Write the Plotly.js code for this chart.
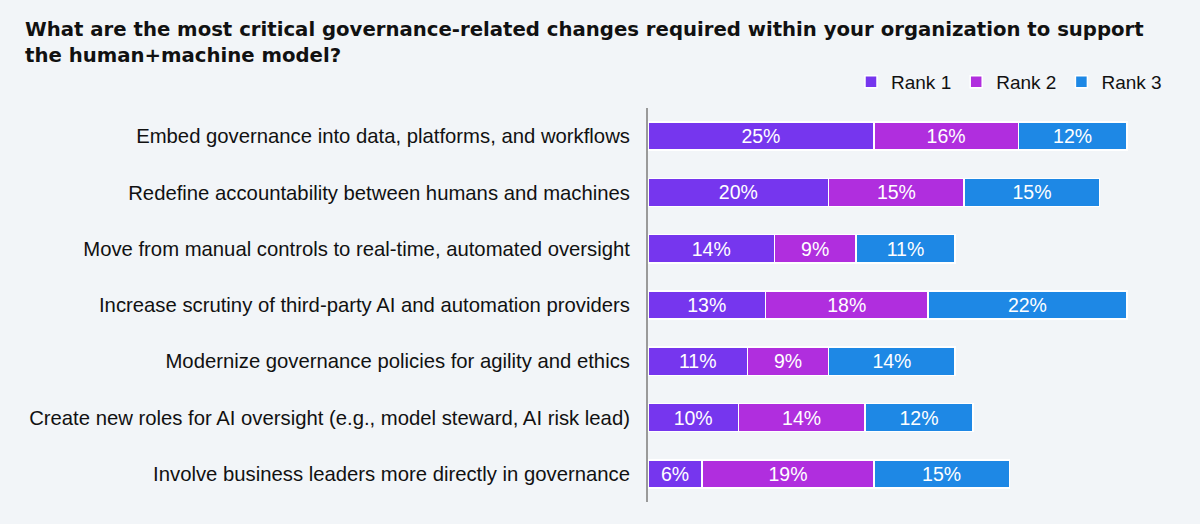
<!DOCTYPE html>
<html>
<head>
<meta charset="utf-8">
<script src="https://cdn.plot.ly/plotly-3.0.1.min.js"></script>
<style>html,body{margin:0;padding:0;background:#F2F5F8;}#chart{width:1200px;height:524px;}</style>
</head>
<body>
<div id="chart"></div>
<script>
const categories = [
  "Embed governance into data, platforms, and workflows",
  "Redefine accountability between humans and machines",
  "Move from manual controls to real-time, automated oversight",
  "Increase scrutiny of third-party AI and automation providers",
  "Modernize governance policies for agility and ethics",
  "Create new roles for AI oversight (e.g., model steward, AI risk lead)",
  "Involve business leaders more directly in governance"
];
const rank1 = [25, 20, 14, 13, 11, 10, 6];
const rank2 = [16, 15, 9, 18, 9, 14, 19];
const rank3 = [12, 15, 11, 22, 14, 12, 15];
const seriesNames = ["Rank 1", "Rank 2", "Rank 3"];
const colors = ["#7636EE", "#B02EDE", "#1E88E5"];
const titleText = "What are the most critical governance-related changes required within your organization to support<br>the human+machine model?";

const FONT = 'Liberation Sans, Arial, sans-serif';
const series = [rank1, rank2, rank3];
const traces = series.map((vals, i) => ({
  type: 'bar',
  orientation: 'h',
  name: seriesNames[i],
  y: categories,
  x: vals,
  text: vals.map(v => v + '%'),
  textposition: 'inside',
  insidetextanchor: 'middle',
  textfont: {color: '#FFFFFF', size: 19.5, family: FONT},
  marker: {color: colors[i], line: {color: '#FFFFFF', width: 1.5}},
  hoverinfo: 'skip'
}));

const L = 648, R = 28, T = 108, B = 22;
const plotW = 1200 - L - R, plotH = 524 - T - B;

const layout = {
  width: 1200, height: 524,
  paper_bgcolor: '#F2F5F8',
  plot_bgcolor: '#F2F5F8',
  barmode: 'stack',
  bargap: 0.5,
  font: {family: FONT, color: '#111111', size: 20},
  margin: {l: L, r: R, t: T, b: B},
  showlegend: true,
  legend: {
    orientation: 'h',
    x: 1167 / 1200, xanchor: 'right', xref: 'container',
    y: 1 - 63 / 524, yanchor: 'top', yref: 'container',
    font: {size: 19, color: '#111111'},
    bgcolor: 'rgba(0,0,0,0)',
    traceorder: 'normal',
    itemwidth: 30
  },
  annotations: [{
    text: '<b>' + titleText + '</b>',
    xref: 'paper', yref: 'paper',
    x: (23 - L) / plotW, xanchor: 'left',
    y: 1 + (T - 16) / plotH, yanchor: 'top',
    align: 'left', showarrow: false,
    font: {family: 'DejaVu Sans, sans-serif', size: 19.7, color: '#111111'}
  }],
  xaxis: {
    range: [0, 58],
    showgrid: false, zeroline: false, showticklabels: false, showline: false, fixedrange: true
  },
  yaxis: {
    autorange: 'reversed',
    showgrid: false, zeroline: false,
    showline: true, linecolor: '#9A9A9A', linewidth: 2,
    ticks: '', ticklabelstandoff: 12,
    tickfont: {size: 20.3, color: '#111111', family: FONT},
    fixedrange: true
  }
};

Plotly.newPlot('chart', traces, layout, {displayModeBar: false, staticPlot: true});
</script>
</body>
</html>
